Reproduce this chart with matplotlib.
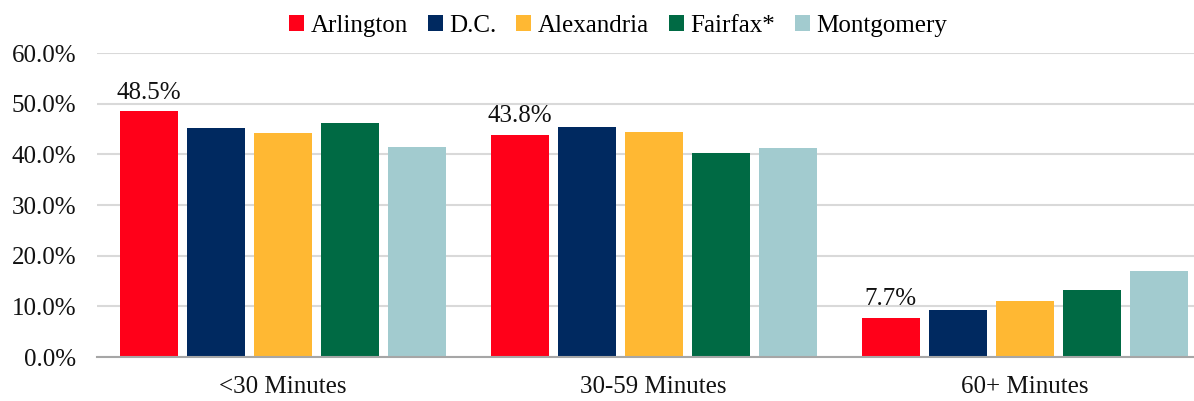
import numpy as np
import matplotlib.pyplot as plt
from matplotlib.ticker import FuncFormatter, MultipleLocator

# commute time share by jurisdiction
categories = ["<30 Minutes", "30-59 Minutes", "60+ Minutes"]
regions = ["Arlington", "D.C.", "Alexandria", "Fairfax*", "Montgomery"]
arlington = [48.5, 43.8, 7.7]
dc = [45.1, 45.3, 9.3]
alexandria = [44.3, 44.4, 11.0]
fairfax = [46.1, 40.3, 13.3]
montgomery = [41.5, 41.2, 17.0]

series = [arlington, dc, alexandria, fairfax, montgomery]
colors = ["#FF0019", "#002960", "#FFB833", "#006A44", "#A2CBCF"]

plt.rcParams['font.family'] = ['Liberation Serif', 'DejaVu Serif']
plt.rcParams['font.size'] = 18

fig = plt.figure(figsize=(11.94, 4.01), dpi=100)
ax = fig.add_axes([97 / 1194, 44 / 401, 1113 / 1194, 304 / 401])

x = np.arange(len(categories))
step = 67 / 371
width = 58 / 371
for i, (name, vals, col) in enumerate(zip(regions, series, colors)):
    pos = x + (i - 2) * step
    ax.bar(pos, vals, width=width, color=col, label=name, zorder=3)
    if i == 0:
        for px, v in zip(pos, vals):
            ax.text(px, v + 1.5, f"{v:.1f}%", ha='center', va='bottom',
                    fontsize=18, color='#111111')

ax.set_xlim(-0.5, 2.5)
ax.set_ylim(0, 60)
ax.yaxis.set_major_locator(MultipleLocator(10))
ax.yaxis.set_major_formatter(FuncFormatter(lambda v, _: f"{v:.1f}%"))
ax.set_xticks(x)
ax.set_xticklabels(categories)
ax.tick_params(axis='both', length=0, labelsize=18, colors='#111111')
ax.tick_params(axis='x', pad=14)
ax.tick_params(axis='y', pad=15)
ax.grid(axis='y', color='#D9D9D9', linewidth=1.5, zorder=0)
for s in ['top', 'right', 'left']:
    ax.spines[s].set_visible(False)
ax.spines['bottom'].set_color('#A6A6A6')
ax.spines['bottom'].set_linewidth(1.5)
ax.spines['bottom'].set_zorder(4)

fig.legend(loc='center', bbox_to_anchor=(618 / 1194, 1 - 26 / 401), ncol=5,
           frameon=False, handlelength=0.6, handleheight=0.6,
           handletextpad=0.25, columnspacing=0.8, fontsize=18)

fig.savefig("out.png", dpi=100)
